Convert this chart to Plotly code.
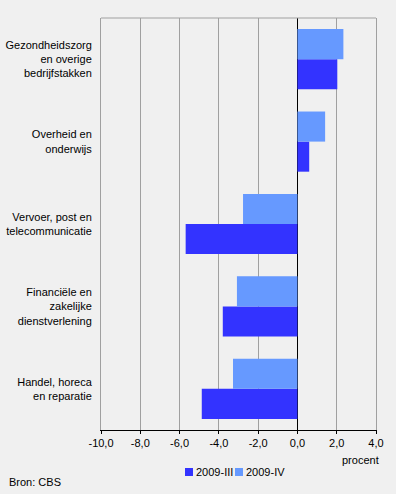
import plotly.graph_objects as go

categories = [
    "Gezondheidszorg<br>en overige<br>bedrijfstakken",
    "Overheid en<br>onderwijs",
    "Vervoer, post en<br>telecommunicatie",
    "Financiële en<br>zakelijke<br>dienstverlening",
    "Handel, horeca<br>en reparatie",
]
series_names = ["2009-III", "2009-IV"]
values_iii = [2.03, 0.60, -5.69, -3.80, -4.87]
values_iv = [2.34, 1.41, -2.77, -3.08, -3.28]
tick_vals = [-10, -8, -6, -4, -2, 0, 2, 4]
tick_text = ["-10,0", "-8,0", "-6,0", "-4,0", "-2,0", "0,0", "2,0", "4,0"]

colors = ["#3333ff", "#6699ff"]
FONT = "Liberation Sans, Arial, sans-serif"

W, H = 396, 494
ML, MR, MT, MB = 101, 20, 18, 64
PW, PH = W - ML - MR, H - MT - MB


def px_x(p):
    return (p - ML) / PW


def px_y(p):
    return (H - MB - p) / PH


fig = go.Figure()
for name, vals, col in zip(series_names, [values_iii, values_iv], colors):
    fig.add_trace(go.Bar(
        y=categories, x=vals, name=name, orientation="h",
        marker=dict(color=col, line=dict(width=0)),
        showlegend=False,
    ))

shapes = [
    dict(type="line", xref="paper", yref="paper", x0=0, x1=1, y0=1, y1=1,
         line=dict(color="#a0a0a0", width=1)),
]
annotations = [
    dict(text="procent", xref="paper", yref="paper", x=px_x(381), y=px_y(460),
         xanchor="right", yanchor="middle", showarrow=False, font=dict(size=11)),
    dict(text="Bron: CBS", xref="paper", yref="paper", x=px_x(7), y=px_y(482),
         xanchor="left", yanchor="middle", showarrow=False, font=dict(size=11)),
]
# legend (manual, compact)
leg_x = [185, 235]
for name, col, lx in zip(series_names, colors, leg_x):
    shapes.append(dict(type="rect", xref="paper", yref="paper",
                       x0=px_x(lx), x1=px_x(lx + 8), y0=px_y(476), y1=px_y(468),
                       fillcolor=col, line=dict(width=0)))
    annotations.append(dict(text=name, xref="paper", yref="paper",
                            x=px_x(lx + 9), y=px_y(472), xanchor="left",
                            yanchor="middle", showarrow=False, font=dict(size=11)))

fig.update_layout(
    width=W, height=H,
    margin=dict(l=ML, r=MR, t=MT, b=MB),
    paper_bgcolor="#f0f0f0", plot_bgcolor="#f0f0f0",
    barmode="group", bargap=0.27, bargroupgap=0,
    font=dict(family=FONT, size=11, color="#000000"),
    showlegend=False,
    xaxis=dict(
        range=[-10, 4], tickvals=tick_vals, ticktext=tick_text,
        showgrid=True, gridcolor="#a0a0a0", gridwidth=1,
        zeroline=True, zerolinecolor="#000000", zerolinewidth=1,
        showline=True, linecolor="#000000", linewidth=1,
        ticks="outside", ticklen=3, tickcolor="#000000",
        tickfont=dict(size=11), fixedrange=True, automargin=False,
    ),
    yaxis=dict(
        categoryorder="array", categoryarray=categories[::-1],
        showgrid=False, zeroline=False,
        showline=True, linecolor="#a0a0a0", linewidth=1, mirror=True,
        ticks="outside", ticklen=6, tickcolor="rgba(0,0,0,0)",
        tickfont=dict(size=11), fixedrange=True, automargin=False,
    ),
    shapes=shapes,
    annotations=annotations,
)

fig.write_html(
    "out.html",
    config={"displayModeBar": False},
    post_script="document.body.style.margin='0';document.body.style.background='#f0f0f0';",
)
